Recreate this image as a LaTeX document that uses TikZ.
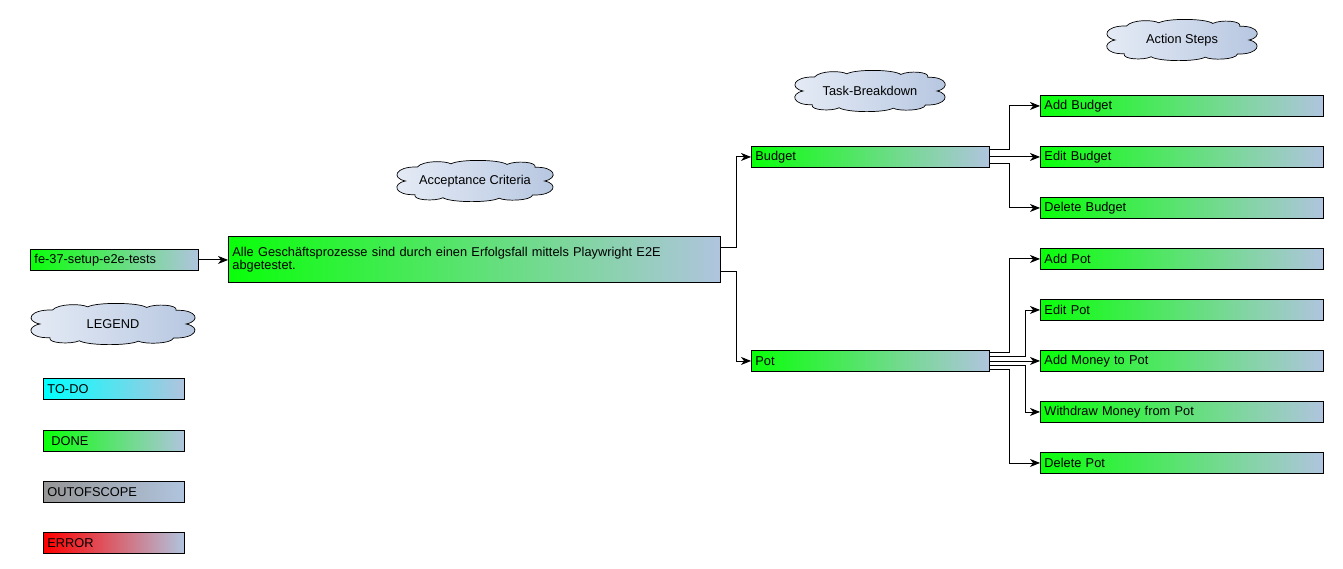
\documentclass[tikz,border=0pt]{standalone}
\usepackage{fontspec}
\setmainfont{Liberation Sans}
\usetikzlibrary{arrows.meta,calc}
\definecolor{lsb}{RGB}{176,196,222}
\definecolor{dgreen}{RGB}{10,255,10}
\definecolor{cloudL}{RGB}{230,236,246}
\definecolor{cloudR}{RGB}{182,198,224}
\newcommand{\cloudshape}[3]{%
  \begin{scope}[shift={#1}, x=#2pt, y=-#3pt]
    \draw[cloudline] (-0.87,0)
      .. controls (-1.05,-0.15) and (-1.0,-0.75) .. (-0.72,-0.72)
      .. controls (-0.65,-1.05) and (-0.38,-1.05) .. (-0.3,-0.88)
      .. controls (-0.2,-1.12) and (0.3,-1.12) .. (0.4,-0.85)
      .. controls (0.5,-1.05) and (0.78,-1.0) .. (0.75,-0.7)
      .. controls (1.0,-0.75) and (1.05,-0.15) .. (0.87,0)
      .. controls (1.05,0.15) and (1.0,0.75) .. (0.72,0.72)
      .. controls (0.7,1.02) and (0.38,1.05) .. (0.3,0.88)
      .. controls (0.2,1.12) and (-0.3,1.12) .. (-0.4,0.86)
      .. controls (-0.5,1.05) and (-0.78,1.0) .. (-0.75,0.7)
      .. controls (-1.0,0.75) and (-1.05,0.15) .. (-0.87,0) -- cycle;
  \end{scope}}
\begin{document}
\begin{tikzpicture}[x=1pt,y=-1pt,
  box/.style={draw, line width=0.9pt, anchor=north west, inner xsep=4pt, inner ysep=0pt,
    align=left, minimum height=21pt, font=\fontsize{12.8}{12.5}\selectfont, right color=lsb},
  done/.style={box, left color=dgreen},
  todo/.style={box, left color=cyan},
  oos/.style={box, left color={rgb,255:red,150;green,150;blue,150}},
  err/.style={box, left color=red},
  cloudline/.style={draw, line width=0.7pt, left color=cloudL, right color=cloudR},
  cloudtext/.style={inner sep=0pt, font=\fontsize{12.8}{13}\selectfont},
  arr/.style={draw, line width=0.9pt, -{Stealth[length=10pt,width=8pt,inset=3pt]}}
]
\fill[white] (0,0) rectangle (1343,569);
\useasboundingbox (0,0) rectangle (1343,569);

% clouds
\cloudshape{(113,324)}{84}{19.5}
\node[cloudtext] (cLegend) at (113,324) {LEGEND};
\cloudshape{(475,181)}{80}{19.5}
\node[cloudtext] (cAC) at (475,181) {Acceptance Criteria};
\cloudshape{(870,91)}{77}{19.5}
\node[cloudtext] (cTB) at (870,91) {Task-Breakdown};
\cloudshape{(1182,40)}{77}{19.5}
\node[cloudtext] (cAS) at (1182,40) {Action Steps};

% main nodes
\node[done, text width=160pt] (fe) at (30,249) {fe-37-setup-e2e-tests};
\node[done, text width=484pt, minimum height=46pt] (main) at (228,236) {Alle Geschäftsprozesse sind durch einen Erfolgsfall mittels Playwright E2E\\abgetestet.};
\node[done, text width=230pt] (budget) at (751,146) {Budget};
\node[done, text width=230pt] (pot) at (751,350) {Pot};

\node[done, text width=275pt] (addb) at (1040,95) {Add Budget};
\node[done, text width=275pt] (editb) at (1040,146) {Edit Budget};
\node[done, text width=275pt] (delb) at (1040,197) {Delete Budget};
\node[done, text width=275pt] (addp) at (1040,248) {Add Pot};
\node[done, text width=275pt] (editp) at (1040,299) {Edit Pot};
\node[done, text width=275pt] (addm) at (1040,350) {Add Money to Pot};
\node[done, text width=275pt] (withm) at (1040,401) {Withdraw Money from Pot};
\node[done, text width=275pt] (delp) at (1040,452) {Delete Pot};

% legend
\node[todo, text width=133pt] (lTodo) at (43,378) {TO-DO};
\node[done, text width=133pt] (lDone) at (43,430) {\hspace{4pt}DONE};
\node[oos, text width=133pt] (lOos) at (43,481) {OUTOFSCOPE};
\node[err, text width=133pt] (lErr) at (43,532) {ERROR};

% connectors
\draw[arr] (fe.east) -- (fe.east -| main.west);
\draw[arr] ([yshift=12pt]main.east) -- ++(16,0) |- (budget.west);
\draw[arr] ([yshift=-12pt]main.east) -- ++(16,0) |- (pot.west);

\draw[arr] ([yshift=7pt]budget.east) -- ++(20,0) |- (addb.west);
\draw[arr] (budget.east) -- (editb.west);
\draw[arr] ([yshift=-7pt]budget.east) -- ++(20,0) |- (delb.west);

\draw[arr] ([yshift=8.5pt]pot.east) -- ++(20,0) |- (addp.west);
\draw[arr] ([yshift=4.3pt]pot.east) -- ++(36,0) |- (editp.west);
\draw[arr] (pot.east) -- (addm.west);
\draw[arr] ([yshift=-4.3pt]pot.east) -- ++(36,0) |- (withm.west);
\draw[arr] ([yshift=-8.5pt]pot.east) -- ++(20,0) |- (delp.west);
\end{tikzpicture}
\end{document}
